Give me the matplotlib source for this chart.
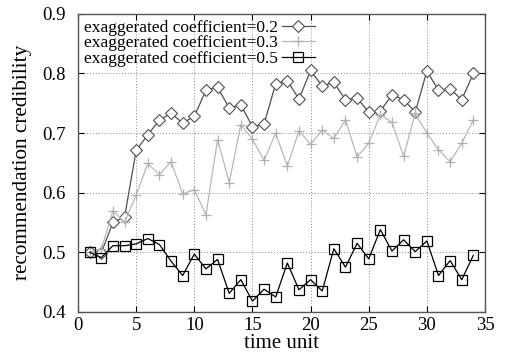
import matplotlib
matplotlib.use("Agg")
import matplotlib.pyplot as plt

t = list(range(1, 35))
coef_02 = [0.500, 0.499, 0.550, 0.559, 0.671, 0.697, 0.722, 0.733, 0.717, 0.728,
           0.772, 0.777, 0.742, 0.747, 0.711, 0.715, 0.783, 0.788, 0.757, 0.805,
           0.779, 0.785, 0.756, 0.759, 0.735, 0.737, 0.764, 0.756, 0.735, 0.804,
           0.772, 0.774, 0.756, 0.800]
coef_03 = [0.500, 0.505, 0.570, 0.550, 0.596, 0.649, 0.630, 0.652, 0.598, 0.605,
           0.563, 0.689, 0.617, 0.714, 0.690, 0.654, 0.700, 0.644, 0.704, 0.681,
           0.705, 0.691, 0.722, 0.660, 0.683, 0.731, 0.718, 0.661, 0.733, 0.700,
           0.672, 0.652, 0.683, 0.722]
coef_05 = [0.500, 0.491, 0.511, 0.511, 0.514, 0.523, 0.513, 0.485, 0.461, 0.497,
           0.472, 0.488, 0.431, 0.454, 0.418, 0.438, 0.425, 0.482, 0.437, 0.454,
           0.435, 0.506, 0.475, 0.515, 0.489, 0.538, 0.502, 0.521, 0.501, 0.519,
           0.461, 0.486, 0.454, 0.495]
labels = ["exaggerated coefficient=0.2", "exaggerated coefficient=0.3",
          "exaggerated coefficient=0.5"]
xticks = [0, 5, 10, 15, 20, 25, 30, 35]
yticks = [0.4, 0.5, 0.6, 0.7, 0.8, 0.9]

plt.rcParams['font.family'] = ['Liberation Serif', 'DejaVu Serif']

fig = plt.figure(figsize=(5.1, 3.56), dpi=100)
ax = fig.add_axes([0.153, 0.124, 0.798, 0.837])

ax.plot(t, coef_02, color='#505050', lw=0.9, marker='D', ms=6.2, mfc='white',
        mec='#505050', mew=0.8, label=labels[0])
ax.plot(t, coef_03, color='#b8b8b8', lw=0.9, marker='+', ms=7.5, mec='#b0b0b0',
        mew=0.9, label=labels[1])
ax.plot(t, coef_05, color='black', lw=0.9, marker='s', ms=6.5, mfc='none',
        mec='black', mew=0.9, label=labels[2])

ax.set_xlim(0, 35)
ax.set_ylim(0.4, 0.9)
ax.set_xticks(xticks)
ax.set_yticks(yticks)
ax.set_yticklabels([f"{v:.1f}" for v in yticks])
ax.tick_params(direction='in', top=True, right=True, labelsize=13.5, length=4)
ax.tick_params(axis='y', pad=9)
ax.tick_params(axis='x', pad=4)
ax.grid(True, linestyle=(0, (1, 2)), color='#888888', lw=0.7)
for s in ax.spines.values():
    s.set_color('#555555')
    s.set_linewidth(1.0)

ax.set_xlabel('time unit', fontsize=15, labelpad=0)
ax.set_ylabel('recommendation credibility', fontsize=15.3, labelpad=7)

leg = ax.legend(loc='upper left', frameon=False, markerfirst=False, fontsize=12.5,
                handlelength=1.9, handletextpad=0.2, labelspacing=-0.05,
                borderaxespad=0.2, borderpad=0.15)

fig.savefig('out.png', dpi=100)
